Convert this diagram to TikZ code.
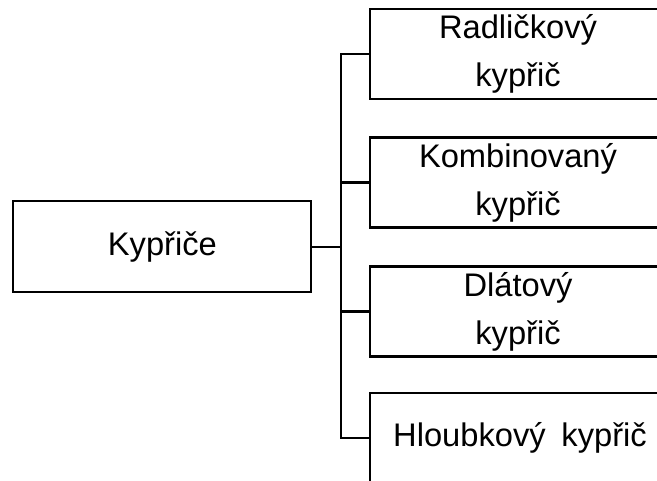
\documentclass[tikz,border=0pt]{standalone}
\usepackage{fontspec}
\setmainfont{Liberation Sans}
\begin{document}
\begin{tikzpicture}[x=0.75pt,y=-0.75pt,
  box/.style={draw=black,line width=1.6pt,rectangle,inner sep=0pt,
    align=center,font=\fontsize{24.5}{36}\selectfont},
  rbox/.style={box,minimum width=222pt,minimum height=67.5pt},
  lbox/.style={box,minimum width=223.5pt,minimum height=68pt},
  conn/.style={draw=black,line width=1.6pt}]
\useasboundingbox (0,0) rectangle (657,481);
\clip (0,0) rectangle (657,481);
\node[lbox] (root) at (162.4,246.5) {Kypřiče};
\node[rbox] (b1) at (518,54) {Radličkový\\kypřič};
\node[rbox] (b2) at (518,182.5) {Kombinovaný\\kypřič};
\node[rbox] (b3) at (518,311.5) {Dlátový\\kypřič};
\node[rbox] (b4) at (518,438) {\hspace{3pt}Hloubkový\hspace{5pt} kypřič};
\coordinate (top) at (341,54);
\coordinate (bot) at (341,438);
\coordinate (mid) at (341,247);
\draw[conn] (root.east |- mid) -- (mid);
\draw[conn] (b1.west) -- (top) -- (bot) -- (b4.west);
\draw[conn] (b2.west) -- (b2.west -| top);
\draw[conn] (b3.west) -- (b3.west -| top);
\end{tikzpicture}
\end{document}
